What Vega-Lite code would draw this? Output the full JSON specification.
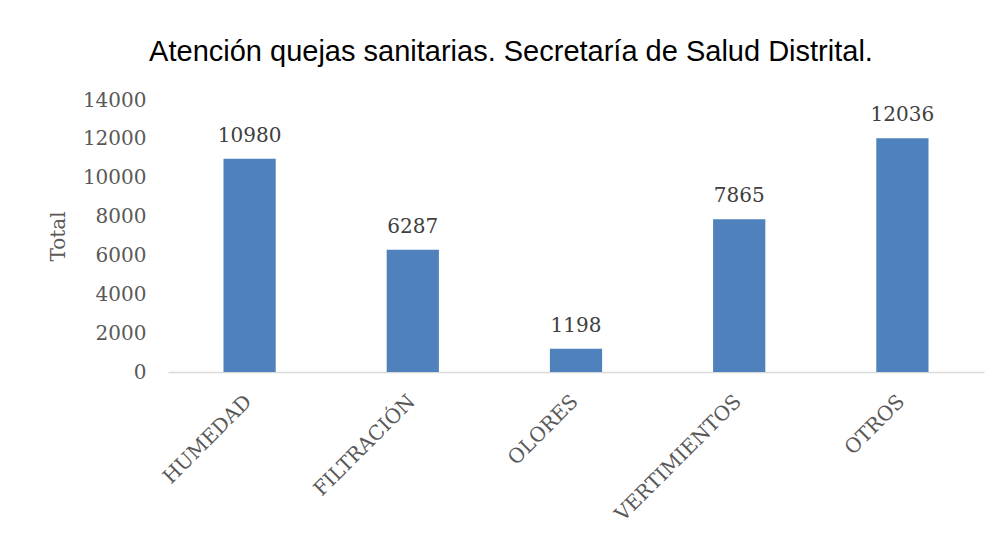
{
  "$schema": "https://vega.github.io/schema/vega-lite/v6.json",
  "autosize": {"type": "none"},
  "width": 816,
  "height": 272,
  "padding": {"left": 168, "top": 100, "right": 18, "bottom": 161},
  "background": "white",
  "title": {
    "text": "Atención quejas sanitarias. Secretaría de Salud Distrital.",
    "font": "Liberation Sans",
    "fontSize": 29,
    "fontWeight": "normal",
    "color": "#000000",
    "anchor": "middle",
    "dx": -65,
    "offset": 23
  },
  "data": {
    "values": [
      {"categoria": "HUMEDAD", "total": 10980},
      {"categoria": "FILTRACIÓN", "total": 6287},
      {"categoria": "OLORES", "total": 1198},
      {"categoria": "VERTIMIENTOS", "total": 7865},
      {"categoria": "OTROS", "total": 12036}
    ]
  },
  "encoding": {
    "x": {
      "field": "categoria",
      "type": "nominal",
      "sort": null,
      "scale": {"paddingInner": 0.68, "paddingOuter": 0.34},
      "axis": {
        "title": null,
        "labelAngle": -45,
        "labelFont": "DejaVu Serif",
        "labelFontSize": 20,
        "labelColor": "#595959",
        "ticks": false,
        "labelPadding": 19,
        "labelOffset": -8,
        "domainColor": "#d9d9d9",
        "domainWidth": 1.5
      }
    },
    "y": {
      "field": "total",
      "type": "quantitative",
      "scale": {"domain": [0, 14000]},
      "axis": {
        "title": "Total",
        "titleFont": "DejaVu Serif",
        "titleFontSize": 20,
        "titleFontWeight": "normal",
        "titleColor": "#595959",
        "titlePadding": 14,
        "values": [0, 2000, 4000, 6000, 8000, 10000, 12000, 14000],
        "format": "d",
        "labelFont": "DejaVu Serif",
        "labelFontSize": 20,
        "labelColor": "#595959",
        "labelPadding": 22,
        "ticks": false,
        "domain": false,
        "grid": false
      }
    }
  },
  "layer": [
    {"mark": {"type": "bar", "color": "#4F81BD"}},
    {
      "mark": {
        "type": "text",
        "font": "DejaVu Serif",
        "fontSize": 20,
        "color": "#404040",
        "baseline": "alphabetic",
        "dy": -17
      },
      "encoding": {"text": {"field": "total", "type": "quantitative", "format": "d"}}
    }
  ],
  "config": {"view": {"stroke": null}}
}
